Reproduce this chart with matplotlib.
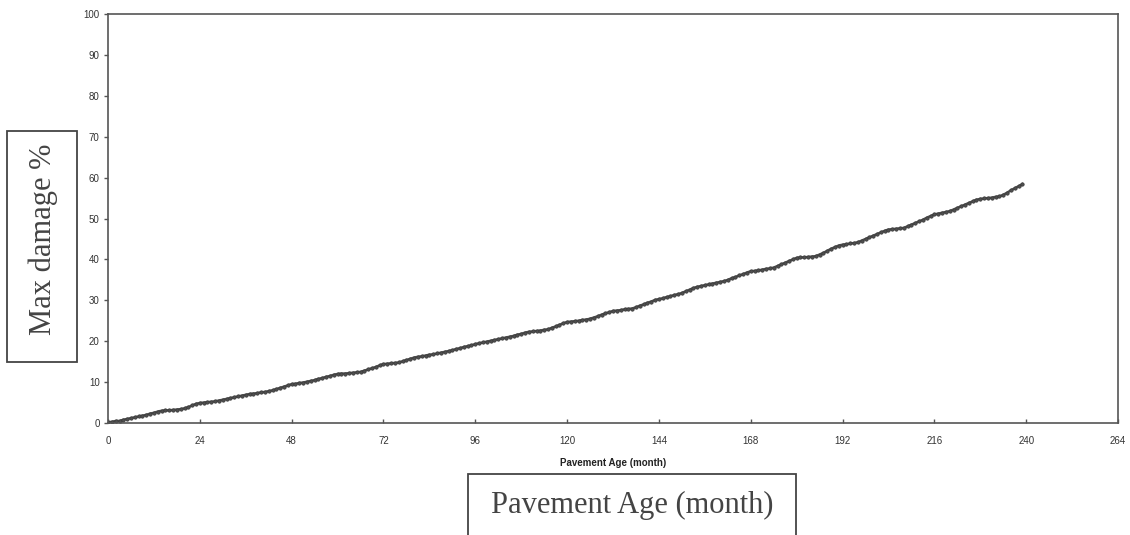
import numpy as np
import matplotlib
matplotlib.use('Agg')
import matplotlib.pyplot as plt
from matplotlib.patches import Rectangle

# max damage (%), one value per month starting at month 0
damage = [
    0.2, 0.3, 0.5, 0.5, 0.8, 1.0,
    1.2, 1.4, 1.6, 1.8, 2.0,
    2.3, 2.5, 2.8, 3.0,
    3.1, 3.1, 3.2, 3.3, 3.4, 3.6,
    3.9, 4.3, 4.7, 4.9,
    5.0, 5.1, 5.2, 5.3, 5.5,
    5.7, 5.9, 6.1, 6.3, 6.5, 6.7, 6.9, 7.1,
    7.2, 7.3, 7.5, 7.6, 7.8, 8.0,
    8.3, 8.6, 8.9, 9.2, 9.5,
    9.6, 9.8, 9.9, 10.1, 10.3, 10.5,
    10.8, 11.0, 11.3, 11.5, 11.8, 12.0,
    12.1, 12.1, 12.2, 12.3, 12.4, 12.5,
    12.8, 13.1, 13.4, 13.7, 14.1, 14.4,
    14.5, 14.6, 14.7, 14.8,
    15.1, 15.4, 15.7, 16.0,
    16.2, 16.3, 16.5, 16.7, 16.8, 17.0, 17.2,
    17.4, 17.6, 17.8, 18.1, 18.3, 18.6, 18.8, 19.0, 19.3, 19.5,
    19.7, 19.9, 20.1, 20.3, 20.5, 20.7, 20.9,
    21.1, 21.3, 21.6, 21.8, 22.1, 22.3,
    22.4, 22.5, 22.6, 22.8, 22.9,
    23.3, 23.6, 24.0, 24.4, 24.7,
    24.8, 24.9, 25.0, 25.2, 25.3, 25.5,
    25.8, 26.1, 26.5, 26.8, 27.1, 27.4,
    27.5, 27.6, 27.8, 27.9, 28.0,
    28.3, 28.7, 29.0, 29.4, 29.7, 30.1,
    30.3, 30.5, 30.8, 31.0, 31.3, 31.5,
    31.8, 32.2, 32.6, 33.0, 33.3,
    33.5, 33.7, 33.9, 34.1, 34.3, 34.5, 34.7,
    35.0, 35.4, 35.7, 36.1, 36.4, 36.8, 37.1,
    37.2, 37.3, 37.5, 37.7, 37.8, 38.0,
    38.4, 38.8, 39.2, 39.6, 40.0, 40.4,
    40.5, 40.5, 40.6, 40.7, 40.8,
    41.2, 41.6, 42.1, 42.6, 43.0, 43.4,
    43.6, 43.7, 43.9, 44.0, 44.2,
    44.6, 45.0, 45.4, 45.8, 46.2, 46.6, 47.0, 47.3,
    47.4, 47.5, 47.6, 47.7,
    48.1, 48.5, 48.9, 49.3, 49.7, 50.2, 50.6, 51.0,
    51.2, 51.4, 51.6, 51.8,
    52.2, 52.6, 53.0, 53.4, 53.8, 54.2, 54.6,
    54.8, 54.9, 55.0, 55.1, 55.3, 55.4,
    55.8, 56.3, 56.9, 57.4, 57.9, 58.4,
]
months = np.arange(len(damage))

x_ticks = [0, 24, 48, 72, 96, 120, 144, 168, 192, 216, 240, 264]
y_ticks = [0, 10, 20, 30, 40, 50, 60, 70, 80, 90, 100]

fig = plt.figure(figsize=(11.3, 5.35), dpi=100)
ax = fig.add_axes([0.0956, 0.2093, 0.8938, 0.7645])

ax.plot(months, damage, color='#505050', lw=1.8, marker='o', ms=2.4,
        mec='#3c3c3c', mew=0.6)

ax.set_xlim(0, 264)
ax.set_ylim(0, 100)
ax.set_xticks(x_ticks)
ax.set_yticks(y_ticks)
ax.set_xticklabels([str(t) for t in x_ticks], fontsize=7, color='#333333',
                   family='Liberation Sans')
ax.set_yticklabels([str(t) for t in y_ticks], fontsize=7, color='#333333',
                   family='Liberation Sans')
ax.tick_params(axis='x', direction='in', length=3, width=1, color='#555555', pad=9)
ax.tick_params(axis='y', direction='out', length=3, width=1, color='#555555', pad=3)
for sp in ax.spines.values():
    sp.set_color('#555555')
    sp.set_linewidth(1.2)

ax.set_xlabel('Pavement Age (month)', fontsize=7, fontweight='bold',
              family='Liberation Sans', color='#222222', labelpad=9)

# boxed labels pasted on top of the chart
fig.patches.append(Rectangle((7/1130, 1 - 362/535), 70/1130, 231/535,
                             transform=fig.transFigure, fill=False,
                             ec='#444444', lw=1.3))
fig.text(43/1130, 1 - 239/535, 'Max damage %', rotation=90, fontsize=22,
         family='Liberation Serif', color='#444444', ha='center', va='center')

fig.patches.append(Rectangle((468/1130, -0.05), 328/1130, 1 - 474/535 + 0.05,
                             transform=fig.transFigure, fill=False,
                             ec='#444444', lw=1.3))
fig.text(632/1130, 1 - 505/535, 'Pavement Age (month)', fontsize=22,
         family='Liberation Serif', color='#444444', ha='center', va='center')

fig.savefig('out.png', dpi=100)
